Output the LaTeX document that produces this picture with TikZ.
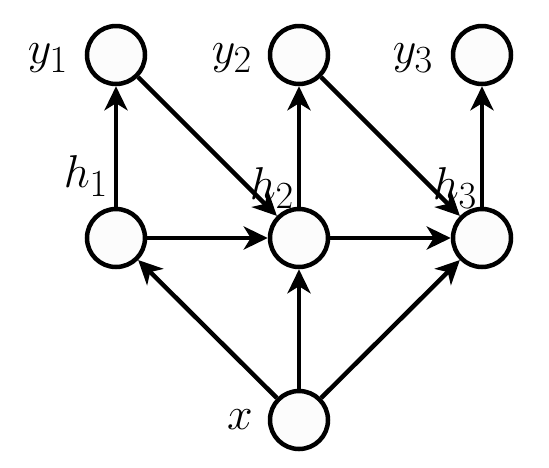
\documentclass[tikz,border=0pt]{standalone}
\usepackage{graphicx}
\usetikzlibrary{arrows.meta}
\newcommand{\biglab}[1]{\scalebox{1.85}{\Huge $#1$}}
\begin{document}
\begin{tikzpicture}[x=1pt,y=-1pt,
  unit/.style={circle,draw,line width=4.5pt,fill=white!99!black,minimum size=58pt,inner sep=0pt},
  lab/.style={inner sep=0pt},
  conn/.style={line width=4.5pt,-{Stealth[length=24pt,width=23pt,inset=7pt]}}]
\useasboundingbox (0,0) rectangle (549,467);
\node[unit] (y1) at (116,55) {};
\node[unit] (y2) at (299,55) {};
\node[unit] (y3) at (482,55) {};
\node[unit] (h1) at (116,238) {};
\node[unit] (h2) at (299,238) {};
\node[unit] (h3) at (482,238) {};
\node[unit] (x) at (299,420) {};
\node[lab] (ly1) at (48,58) {\biglab{y_1}};
\node[lab] (ly2) at (232,58) {\biglab{y_2}};
\node[lab] (ly3) at (413,58) {\biglab{y_3}};
\node[lab] (lh1) at (86,176) {\biglab{h_1}};
\node[lab] (lh2) at (272,188) {\biglab{h_2}};
\node[lab] (lh3) at (455,188) {\biglab{h_3}};
\node[lab] (lx) at (240,420) {\biglab{x}};
\draw[conn] (h1) -- (y1);
\draw[conn] (h2) -- (y2);
\draw[conn] (h3) -- (y3);
\draw[conn] (h1) -- (h2);
\draw[conn] (h2) -- (h3);
\draw[conn] (x) -- (h1);
\draw[conn] (x) -- (h2);
\draw[conn] (x) -- (h3);
\draw[conn] (y1) -- (h2);
\draw[conn] (y2) -- (h3);
\end{tikzpicture}
\end{document}
